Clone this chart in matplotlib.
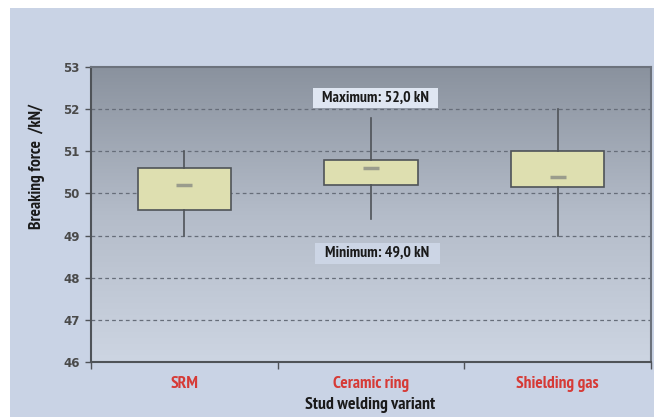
import numpy as np
import matplotlib
matplotlib.use("Agg")
import matplotlib.pyplot as plt
from matplotlib.patches import Rectangle
from matplotlib.colors import LinearSegmentedColormap

categories = ["SRM", "Ceramic ring", "Shielding gas"]
whisker_low = [49.0, 49.4, 49.0]
q1 = [49.6, 50.2, 50.15]
median = [50.2, 50.6, 50.4]
q3 = [50.6, 50.8, 51.0]
whisker_high = [51.0, 51.8, 52.0]
y_ticks = [46, 47, 48, 49, 50, 51, 52, 53]
max_label = "Maximum: 52,0 kN"
min_label = "Minimum: 49,0 kN"

FONT = ["PT Sans Narrow", "DejaVu Sans"]
plt.rcParams["font.family"] = FONT

W, H = 654, 417
fig = plt.figure(figsize=(W / 100, H / 100), dpi=100, facecolor="white")
fig.patches.append(Rectangle((10 / W, 0), 1, (H - 8) / H, transform=fig.transFigure,
                             facecolor="#c9d3e5", edgecolor="none", zorder=-10))

ax = fig.add_axes([91 / W, (H - 362) / H, 560 / W, 295 / H])
ax.set_xlim(-0.5, 2.5)
ax.set_ylim(46, 53)

grad = np.linspace(0, 1, 256).reshape(-1, 1)
cmap = LinearSegmentedColormap.from_list("bg", ["#cdd5e2", "#b4bcc9", "#8a929e"])
ax.imshow(grad, aspect="auto", cmap=cmap, extent=(-0.5, 2.5, 46, 53), origin="lower", zorder=0)

for y in y_ticks[1:-1]:
    ax.axhline(y, color="#666d79", lw=0.9, ls=(0, (3, 2.5)), zorder=1)

stats = []
for i in range(len(categories)):
    stats.append(dict(med=median[i], q1=q1[i], q3=q3[i], whislo=whisker_low[i],
                      whishi=whisker_high[i], fliers=[]))
ax.bxp(stats, positions=range(len(categories)), widths=0.5, showcaps=False,
       showfliers=False, patch_artist=True, manage_ticks=False,
       boxprops=dict(facecolor="#dedfb0", edgecolor="#4f5358", lw=1.2),
       whiskerprops=dict(color="#4f5358", lw=1.2),
       medianprops=dict(lw=0), zorder=3)
ax.plot(range(len(categories)), median, ls="none", marker="_", ms=12, mew=2.5,
        color="#9a9c8c", zorder=4)

def label_box(cx, cy, w, h, text, face):
    # cx, cy in pixels of the figure (layout position of the annotation box)
    fig.patches.append(Rectangle(((cx - w / 2) / W, 1 - (cy + h / 2) / H), w / W, h / H,
                                 transform=fig.transFigure, facecolor=face,
                                 edgecolor="none", zorder=5))
    fig.text(cx / W, 1 - cy / H, text, ha="center", va="center", fontsize=11.3,
             fontweight="bold", color="#1a1a1a", zorder=6)

label_box(375.5, 98, 125, 20, max_label, "#dfe6f2")
label_box(377.5, 253, 125, 21, min_label, "#ccd5e5")

ax.set_yticks(y_ticks)
ax.set_yticklabels([str(v) for v in y_ticks], fontsize=8.5, fontweight="bold",
                   color="#4a4a4a", family="DejaVu Sans")
ax.tick_params(axis="y", length=4, width=1, color="#4f5358", pad=4)

ax.set_xticks(range(len(categories)))
ax.set_xticklabels(categories, fontsize=12.5, fontweight="bold", color="#d63a36")
ax.set_xticks([-0.5, 0.5, 1.5, 2.5], minor=True)
ax.tick_params(axis="x", which="major", length=0, pad=10)
ax.tick_params(axis="x", which="minor", length=5, width=1, color="#4f5358")

for s in ["left", "bottom"]:
    ax.spines[s].set_color("#4f5358")
    ax.spines[s].set_linewidth(1.5)
for s in ["top", "right"]:
    ax.spines[s].set_color("#6c727c")
    ax.spines[s].set_linewidth(1.5)

fig.text(370 / W, 1 - 405 / H, "Stud welding variant", ha="center", va="center",
         fontsize=12.8, fontweight="bold", color="#1a1a1a")
fig.text(37 / W, 1 - 166 / H, "Breaking force  /kN/", ha="center", va="center",
         rotation=90, fontsize=12.5, fontweight="bold", color="#1a1a1a")

fig.savefig("out.png", dpi=100, facecolor=fig.get_facecolor())
